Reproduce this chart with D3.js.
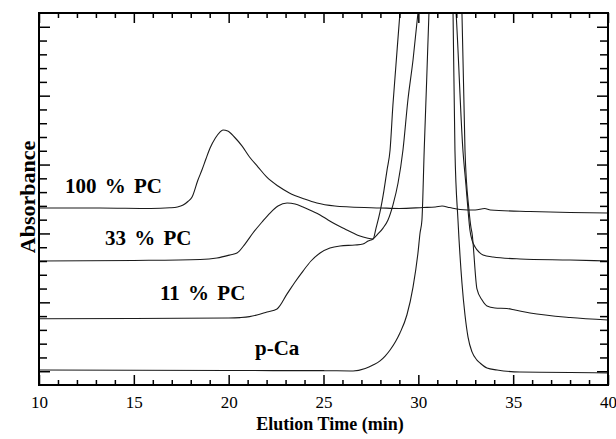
<!DOCTYPE html>
<html>
<head>
<meta charset="utf-8">
<script src="https://cdn.jsdelivr.net/npm/d3@7/dist/d3.min.js"></script>
<style>
  html, body { margin: 0; padding: 0; background: #fff; }
  svg { display: block; }
</style>
</head>
<body>
<script>
// ---- Data (elution time in min, absorbance in arbitrary units) ----
const seriesNames = ["100 % PC", "33 % PC", "11 % PC", "p-Ca"];

const pc100 = [
  [10,1.185],[13.2,1.185],[15.9,1.181],[16.9,1.186],[17.3,1.192],[17.6,1.206],[17.85,1.232],
  [18.07,1.264],[18.38,1.388],[18.59,1.460],[18.8,1.54],[19.02,1.620],[19.3,1.693],[19.54,1.736],
  [19.7,1.751],[19.95,1.744],[20.3,1.700],[20.7,1.635],[21.1,1.555],[21.55,1.482],[22.0,1.410],
  [22.6,1.344],[23.2,1.294],[24.0,1.250],[24.65,1.221],[25.6,1.199],[26.4,1.192],[28.0,1.185],
  [29.0,1.181],[30.25,1.188],[30.9,1.192],[31.25,1.199],[31.65,1.188],[32.2,1.174],[33.0,1.170],
  [33.5,1.181],[33.8,1.170],[35.9,1.159],[38.0,1.152],[40,1.148]
];

const pc33 = [
  [10,0.800],[15,0.804],[18.5,0.811],[19.38,0.822],[20.07,0.844],[20.44,0.858],[20.86,0.923],
  [21.28,1.003],[21.76,1.083],[22.18,1.148],[22.6,1.199],[23.08,1.221],[23.5,1.214],[23.92,1.192],
  [24.39,1.163],[24.82,1.134],[25.24,1.098],[25.71,1.061],[26.13,1.032],[26.56,1.003],[26.92,0.981],
  [27.29,0.967],[27.61,0.960],[27.77,1.039],[27.98,1.156],[28.19,1.315],[28.35,1.460],[28.51,1.606],
  [28.66,1.932],[28.82,2.222],[29.03,2.600],[29.5,3.3],[30.5,3.6],[31.5,3.3],[31.99,2.600],
  [32.35,1.606],[32.51,1.352],[32.62,1.170],[32.72,1.025],[32.83,0.952],[32.99,0.902],[33.2,0.865],
  [33.41,0.844],[33.94,0.829],[35.36,0.815],[38.0,0.807],[40,0.800]
];

const pc11 = [
  [10,0.381],[15,0.383],[20,0.386],[20.6,0.389],[21.1,0.396],[21.49,0.408],[22.02,0.430],
  [22.55,0.452],[23.08,0.561],[23.5,0.648],[23.92,0.727],[24.34,0.800],[24.82,0.858],[25.34,0.894],
  [25.87,0.909],[26.66,0.916],[27.08,0.923],[27.35,0.945],[27.61,0.960],[27.87,0.996],[28.14,1.039],
  [28.4,1.098],[28.66,1.206],[28.93,1.366],[29.19,1.606],[29.45,1.969],[29.72,2.259],[29.98,2.600],
  [30.5,3.4],[31.3,3.6],[31.9,3.4],[32.30,2.600],[32.46,1.606],[32.67,1.170],[32.78,1.039],
  [32.83,1.003],[33.09,0.597],[33.36,0.517],[33.62,0.474],[34.04,0.459],[34.67,0.455],[35.1,0.444],
  [35.89,0.423],[38.0,0.390],[40,0.372]
];

const pCa = [
  [10,0.009],[20,0.005],[25,0.004],[26.56,0.002],[27.2,0.02],[27.61,0.045],[27.98,0.075],
  [28.25,0.11],[28.51,0.154],[28.8,0.215],[29.03,0.277],[29.4,0.41],[29.72,0.611],[29.98,0.858],
  [30.09,1.003],[30.19,1.098],[30.31,1.606],[30.44,2.114],[30.56,2.600],[30.9,3.5],[31.3,3.8],
  [31.6,3.5],[31.83,2.600],[31.93,1.606],[32.09,1.098],[32.30,0.640],[32.46,0.408],[32.62,0.248],
  [32.83,0.14],[33.09,0.081],[33.25,0.060],[33.62,0.023],[34.15,0.009],[35.36,-0.006],[38.0,-0.009],
  [40,-0.013]
];

const xMajorTicks = [10, 15, 20, 25, 30, 35, 40];
const xMinorTicks = d3.range(11, 40).filter(d => d % 5 !== 0);
const yMajorTicks = [0, 0.5, 1.0, 1.5, 2.0, 2.5];
const yMinorTicks = d3.range(1, 26).filter(i => i % 5 !== 0).map(i => i / 10);
const xTitle = "Elution Time (min)";
const yTitle = "Absorbance";

// ---- Layout ----
const W = 616, H = 439;
const L = 39, R = 608, T = 13, B = 385;
const serif = "'Liberation Serif', 'Times New Roman', Times, serif";

const svg = d3.select("body").append("svg").attr("width", W).attr("height", H);

const x = d3.scaleLinear().domain([10, 40]).range([L, R]);
const y = d3.scaleLinear().domain([-0.1, 2.6]).range([B, T]);

svg.append("clipPath").attr("id", "plotclip")
  .append("rect").attr("x", L).attr("y", T).attr("width", R - L).attr("height", B - T);

// ---- Curves ----
const line = d3.line().x(d => x(d[0])).y(d => y(d[1])).curve(d3.curveMonotoneX);
const curves = svg.append("g").attr("clip-path", "url(#plotclip)");
[pc100, pc33, pc11, pCa].forEach(s => {
  curves.append("path").datum(s).attr("d", line)
    .attr("fill", "none").attr("stroke", "#1a1a1a").attr("stroke-width", 1.1);
});

// ---- Axes ----
function styleAxis(g) {
  g.select(".domain").remove();
  g.selectAll(".tick line").attr("stroke", "#000").attr("stroke-width", 1.5);
}
svg.append("g").attr("transform", `translate(0,${B})`)
  .call(d3.axisBottom(x).tickValues(xMajorTicks).tickSizeInner(-10).tickSizeOuter(0)
    .tickPadding(11).tickFormat(d3.format("d")))
  .call(styleAxis)
  .call(g => g.selectAll("text").attr("font-family", serif).attr("font-size", 17).attr("fill", "#000"));
svg.append("g").attr("transform", `translate(0,${B})`)
  .call(d3.axisBottom(x).tickValues(xMinorTicks).tickSize(-5).tickFormat(""))
  .call(styleAxis);
svg.append("g").attr("transform", `translate(0,${T})`)
  .call(d3.axisTop(x).tickValues(xMajorTicks).tickSize(-10).tickFormat(""))
  .call(styleAxis);
svg.append("g").attr("transform", `translate(0,${T})`)
  .call(d3.axisTop(x).tickValues(xMinorTicks).tickSize(-5).tickFormat(""))
  .call(styleAxis);
svg.append("g").attr("transform", `translate(${L},0)`)
  .call(d3.axisLeft(y).tickValues(yMajorTicks).tickSize(-11).tickFormat(""))
  .call(styleAxis);
svg.append("g").attr("transform", `translate(${L},0)`)
  .call(d3.axisLeft(y).tickValues(yMinorTicks).tickSize(-8).tickFormat(""))
  .call(styleAxis);
svg.append("g").attr("transform", `translate(${R},0)`)
  .call(d3.axisRight(y).tickValues(yMajorTicks).tickSize(-11).tickFormat(""))
  .call(styleAxis);
svg.append("g").attr("transform", `translate(${R},0)`)
  .call(d3.axisRight(y).tickValues(yMinorTicks).tickSize(-8).tickFormat(""))
  .call(styleAxis);

// Frame
svg.append("rect").attr("x", L).attr("y", T).attr("width", R - L).attr("height", B - T)
  .attr("fill", "none").attr("stroke", "#000").attr("stroke-width", 2);

// ---- Titles ----
svg.append("text").attr("x", 330).attr("y", 430).attr("text-anchor", "middle")
  .attr("font-family", serif).attr("font-weight", "bold").attr("font-size", 18)
  .text(xTitle);
svg.append("text").attr("transform", "translate(35,197) rotate(-90)").attr("text-anchor", "middle")
  .attr("font-family", serif).attr("font-weight", "bold").attr("font-size", 22)
  .text(yTitle);

// ---- Series labels ----
const labelPos = [[65, 193], [105, 245], [160, 300], [255, 355]];
seriesNames.forEach((name, i) => {
  svg.append("text").attr("x", labelPos[i][0]).attr("y", labelPos[i][1])
    .attr("font-family", serif).attr("font-weight", "bold").attr("font-size", 21)
    .attr("word-spacing", 3).attr("fill", "#000")
    .text(name);
});
</script>
</body>
</html>
